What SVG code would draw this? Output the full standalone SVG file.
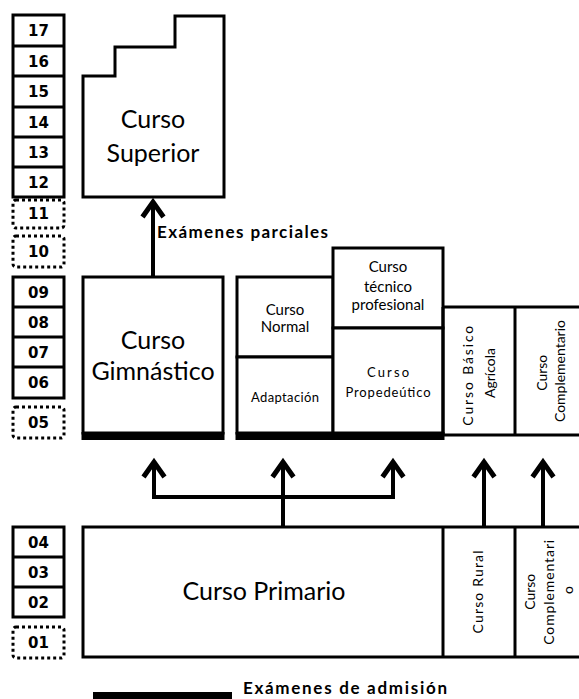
<svg xmlns="http://www.w3.org/2000/svg" width="579" height="699" viewBox="0 0 579 699">
  <style>
    .box { fill: #fff; stroke: #000; stroke-width: 3; }
    .line { fill: none; stroke: #000; stroke-width: 3; }
    .dot { fill: #fff; stroke: #000; stroke-width: 3; stroke-dasharray: 3 3; }
    .yr { font-family: "DejaVu Sans", "Liberation Sans", sans-serif; font-weight: bold; font-size: 15px; text-anchor: middle; fill: #000; }
    .big { font-family: Lato, "Liberation Sans", sans-serif; font-size: 25px; text-anchor: middle; fill: #000; }
    .mid { font-family: Lato, "Liberation Sans", sans-serif; font-size: 15px; text-anchor: middle; fill: #000; }
    .rot { font-family: Lato, "Liberation Sans", sans-serif; font-size: 14px; text-anchor: middle; fill: #000; }
    .sm { font-family: Lato, "Liberation Sans", sans-serif; font-size: 13px; text-anchor: middle; fill: #000; }
    .bold { font-family: Lato, "Liberation Sans", sans-serif; font-weight: bold; font-size: 17px; fill: #000; }
    .conn { fill: none; stroke: #000; stroke-width: 4; stroke-linejoin: miter; }
  </style>
  <defs>
    <marker id="head" viewBox="-20 -14 24 28" refX="0" refY="0" markerWidth="24" markerHeight="28" markerUnits="userSpaceOnUse" orient="auto" overflow="visible">
      <path d="M-15,-10.5 L0,0 L-15,10.5" fill="none" stroke="#000" stroke-width="5" stroke-linejoin="miter"/>
    </marker>
  </defs>

  <!-- year scale -->
  <g id="years">
    <rect class="box" x="13" y="15" width="51" height="182"/>
    <path class="line" d="M13,46 H64 M13,76 H64 M13,107 H64 M13,137 H64 M13,167 H64"/>
    <text class="yr" x="38.5" y="36">17</text>
    <text class="yr" x="38.5" y="66.5">16</text>
    <text class="yr" x="38.5" y="97">15</text>
    <text class="yr" x="38.5" y="127.5">14</text>
    <text class="yr" x="38.5" y="157.5">13</text>
    <text class="yr" x="38.5" y="187.5">12</text>

    <rect class="dot" x="13" y="200" width="51" height="28" rx="3"/>
    <text class="yr" x="38.5" y="219">11</text>
    <rect class="dot" x="13" y="236" width="51" height="31" rx="3"/>
    <text class="yr" x="38.5" y="257">10</text>

    <rect class="box" x="13" y="277" width="51" height="121"/>
    <path class="line" d="M13,307 H64 M13,337 H64 M13,367 H64"/>
    <text class="yr" x="38.5" y="297.5">09</text>
    <text class="yr" x="38.5" y="327.5">08</text>
    <text class="yr" x="38.5" y="357.5">07</text>
    <text class="yr" x="38.5" y="388">06</text>

    <rect class="dot" x="13" y="407" width="51" height="31" rx="3"/>
    <text class="yr" x="38.5" y="428">05</text>

    <rect class="box" x="13" y="527" width="51" height="90"/>
    <path class="line" d="M13,557 H64 M13,587 H64"/>
    <text class="yr" x="38.5" y="547.5">04</text>
    <text class="yr" x="38.5" y="577.5">03</text>
    <text class="yr" x="38.5" y="607.5">02</text>

    <rect class="dot" x="13" y="627" width="51" height="31" rx="3"/>
    <text class="yr" x="38.5" y="648">01</text>
  </g>

  <!-- upper level -->
  <g id="superior">
    <path class="box" d="M83,76 H115 V47 H175 V16 H224 V197 H83 Z"/>
    <text class="big" x="153" y="128">Curso</text>
    <text class="big" x="153" y="162">Superior</text>
  </g>

  <!-- middle level -->
  <g id="gimnastico">
    <rect class="box" x="83" y="277" width="140" height="156"/>
    <rect x="81.5" y="432" width="143" height="8" fill="#000"/>
    <text class="big" x="153" y="349">Curso</text>
    <text class="big" x="153" y="380">Gimnástico</text>
  </g>

  <g id="normal">
    <rect class="box" x="237" y="277" width="96" height="80"/>
    <text class="mid" x="285" y="315">Curso</text>
    <text class="mid" x="285" y="332">Normal</text>
  </g>

  <g id="adaptacion">
    <rect class="box" x="237" y="357" width="96" height="76"/>
    <text class="sm" x="285" y="402" textLength="68" lengthAdjust="spacing">Adaptación</text>
  </g>

  <g id="tecnico">
    <rect class="box" x="333" y="248" width="110" height="80"/>
    <text class="mid" x="388" y="272">Curso</text>
    <text class="mid" x="388" y="292">técnico</text>
    <text class="mid" x="388" y="310">profesional</text>
  </g>

  <g id="propedeutico">
    <rect class="box" x="333" y="328" width="110" height="105"/>
    <text class="sm" x="388" y="377" textLength="42" lengthAdjust="spacing">Curso</text>
    <text class="sm" x="388" y="397" textLength="85" lengthAdjust="spacing">Propedeútico</text>
    <rect x="235.5" y="432" width="209" height="8" fill="#000"/>
  </g>

  <g id="agricola">
    <path class="line" d="M443,307 H579 M443,435 H579 M443,307 V435"/>
    <text class="rot" transform="translate(480,373) rotate(-90)">
      <tspan x="0" y="-7" textLength="100" lengthAdjust="spacing">Curso Básico</tspan>
      <tspan x="0" y="15">Agrícola</tspan>
    </text>
  </g>

  <g id="complementario">
    <path class="line" d="M515,307 V435"/>
    <text class="rot" transform="translate(550,371) rotate(-90)">
      <tspan x="0" y="-3">Curso</tspan>
      <tspan x="0" y="15" textLength="102" lengthAdjust="spacing">Complementario</tspan>
    </text>
  </g>

  <!-- primary level -->
  <g id="primario">
    <rect class="box" x="83" y="527" width="500" height="130"/>
    <text class="big" x="264" y="600" font-size="26">Curso Primario</text>
  </g>

  <g id="rural">
    <path class="line" d="M443,527 V657"/>
    <text class="rot" transform="translate(479,592) rotate(-90)">
      <tspan x="0" y="4" textLength="83" lengthAdjust="spacing">Curso Rural</tspan>
    </text>
  </g>

  <g id="complementario-primario">
    <path class="line" d="M515,527 V657"/>
    <text class="rot" transform="translate(550,590) rotate(-90)">
      <tspan x="0" y="-15">Curso</tspan>
      <tspan x="0" y="4" textLength="105" lengthAdjust="spacing">Complementari</tspan>
      <tspan x="0" y="23">o</tspan>
    </text>
  </g>

  <!-- connectors -->
  <g id="connectors">
    <path class="conn" d="M153,277 V202" marker-end="url(#head)"/>
    <path class="conn" d="M283,527 V497 H154 V462" marker-end="url(#head)"/>
    <path class="conn" d="M283,527 V462" marker-end="url(#head)"/>
    <path class="conn" d="M283,497 H393 V462" marker-end="url(#head)"/>
    <path class="conn" d="M484,527 V462" marker-end="url(#head)"/>
    <path class="conn" d="M543,527 V462" marker-end="url(#head)"/>
    <text class="bold" x="157" y="238" textLength="171" lengthAdjust="spacing">Exámenes parciales</text>
  </g>

  <!-- legend -->
  <g id="legend">
    <rect x="93" y="692" width="139" height="10" fill="#000"/>
    <text class="bold" x="243" y="694" font-size="16" textLength="204" lengthAdjust="spacing">Exámenes de admisión</text>
  </g>
</svg>
